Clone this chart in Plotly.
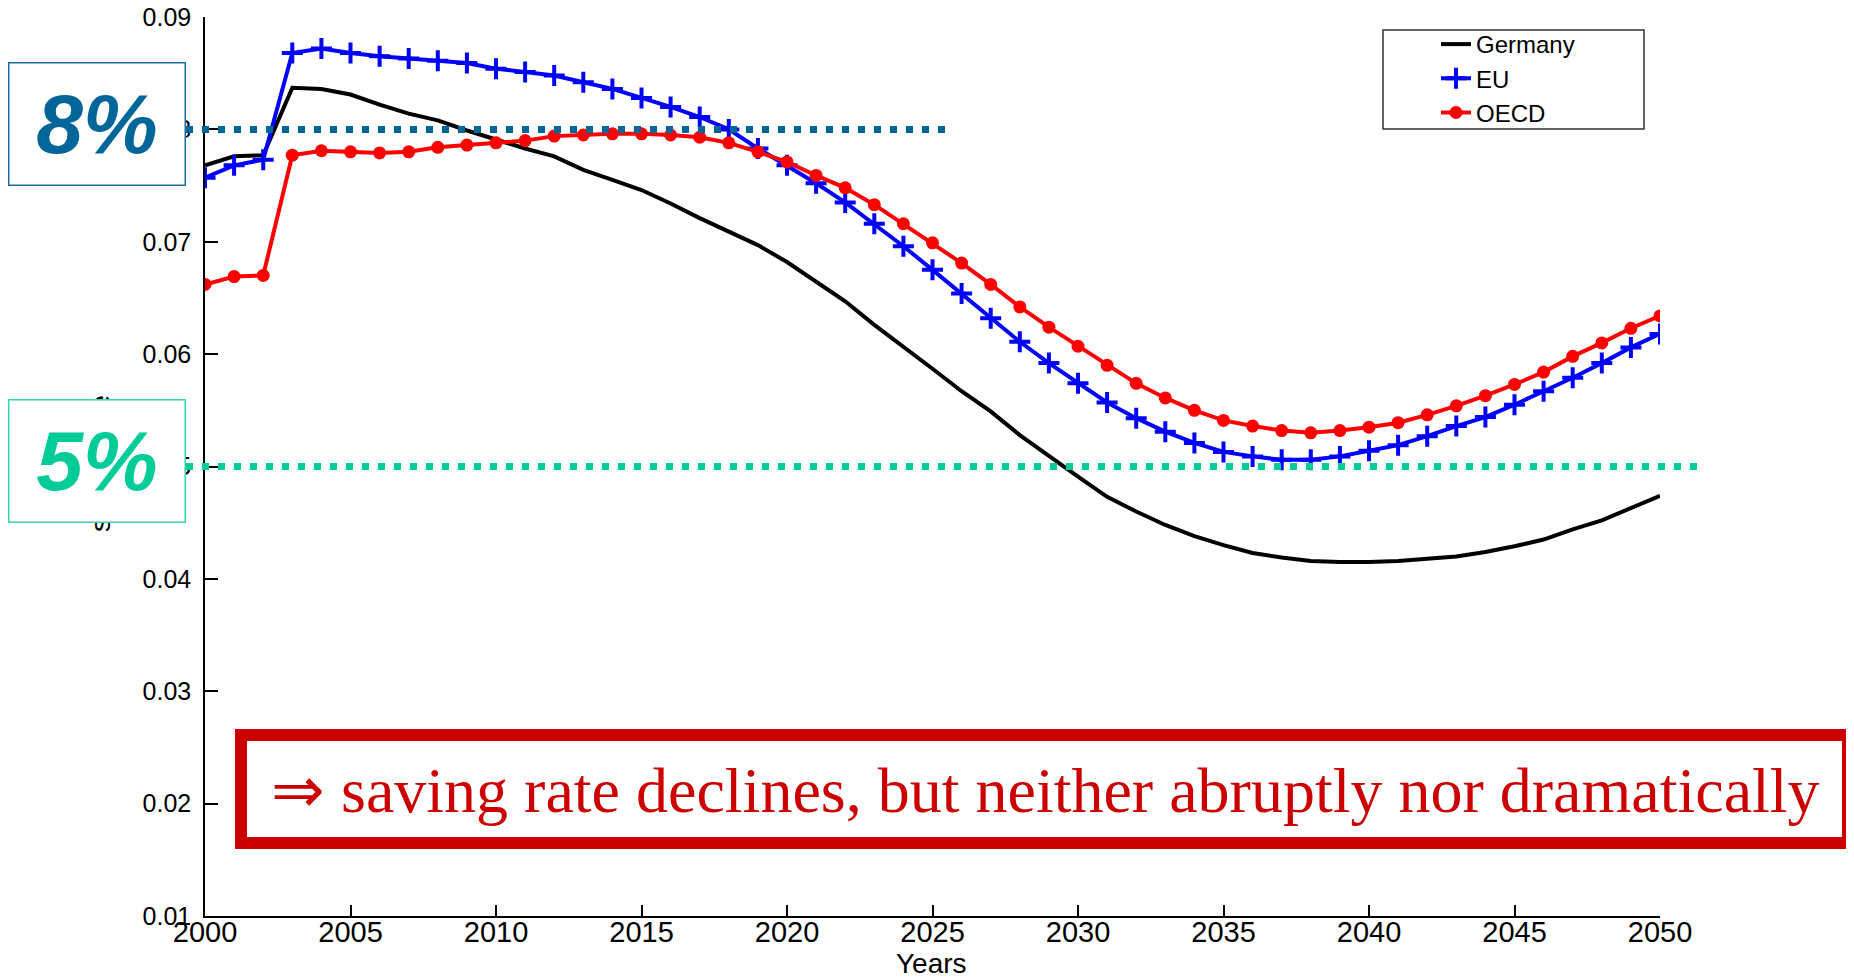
import plotly.graph_objects as go

years = list(range(2000, 2051))

germany = [0.0768, 0.0776, 0.0777, 0.0837, 0.0836, 0.0831, 0.0822, 0.0814, 0.0808, 0.0799,
           0.0791, 0.0783, 0.0776, 0.0764, 0.0755, 0.0746, 0.0734, 0.0721, 0.0709, 0.0697,
           0.0682, 0.0664, 0.0647, 0.0626, 0.0607, 0.0587, 0.0567, 0.0549, 0.0528, 0.0509,
           0.0491, 0.0473, 0.0460, 0.0448, 0.0438, 0.0430, 0.0423, 0.0419, 0.0416, 0.0415,
           0.0415, 0.0416, 0.0418, 0.0420, 0.0424, 0.0429, 0.0435, 0.0444, 0.0452, 0.0463,
           0.0474]

eu = [0.0757, 0.0768, 0.0773, 0.0868, 0.0872, 0.0868, 0.0865, 0.0863, 0.0861, 0.0859,
      0.0854, 0.0851, 0.0848, 0.0842, 0.0836, 0.0828, 0.0820, 0.0811, 0.0800, 0.0783,
      0.0768, 0.0752, 0.0735, 0.0716, 0.0696, 0.0675, 0.0654, 0.0632, 0.0611, 0.0592,
      0.0574, 0.0557, 0.0543, 0.0531, 0.0521, 0.0513, 0.0509, 0.0506, 0.0506, 0.0509,
      0.0514, 0.0519, 0.0527, 0.0536, 0.0544, 0.0555, 0.0567, 0.0579, 0.0592, 0.0606,
      0.0618]

oecd = [0.0662, 0.0669, 0.0670, 0.0777, 0.0781, 0.0780, 0.0779, 0.0780, 0.0784, 0.0786,
        0.0788, 0.0790, 0.0794, 0.0795, 0.0796, 0.0796, 0.0795, 0.0793, 0.0788, 0.0780,
        0.0771, 0.0759, 0.0748, 0.0733, 0.0716, 0.0699, 0.0681, 0.0662, 0.0642, 0.0624,
        0.0607, 0.0590, 0.0574, 0.0561, 0.0550, 0.0541, 0.0536, 0.0532, 0.0530, 0.0532,
        0.0535, 0.0539, 0.0546, 0.0554, 0.0563, 0.0573, 0.0584, 0.0598, 0.0610, 0.0623,
        0.0634]

y_ticks = [0.01, 0.02, 0.03, 0.04, 0.05, 0.06, 0.07, 0.08, 0.09]
x_ticks = list(range(2000, 2051, 5))
y_range = [0.01, 0.09]
x_range = [2000, 2050]

ref_levels = [0.08, 0.05]
ref_labels = ["8%", "5%"]
note_text = "⇒ saving rate declines, but neither abruptly nor dramatically"

# page body has an 8px margin; the figure is sized to fill the rest of the window
OFF = 8
W, H = 1846, 970
ML, MT = 205 - OFF, 17 - OFF
MR = W - (1660 - OFF)
MB = H - (916 - OFF)
PW = W - ML - MR
PH = H - MT - MB


def px_x(px):
    return (px - OFF - ML) / PW


def px_y(py):
    return (H - MB - (py - OFF)) / PH


def val_y(v):
    return (v - y_range[0]) / (y_range[1] - y_range[0])


fig = go.Figure()
fig.add_trace(go.Scatter(x=years, y=germany, name="Germany", mode="lines",
                         line=dict(color="black", width=4)))
fig.add_trace(go.Scatter(x=years, y=eu, name="EU", mode="lines+markers",
                         line=dict(color="#0000ff", width=4),
                         marker=dict(symbol="cross-thin", size=15,
                                     line=dict(color="#0000ff", width=4))))
fig.add_trace(go.Scatter(x=years, y=oecd, name="OECD", mode="lines+markers",
                         line=dict(color="#ff0000", width=4),
                         marker=dict(symbol="circle", size=13, color="#ff0000")))

font_family = "Arial, Liberation Sans, sans-serif"

fig.update_layout(
    width=W, height=H, autosize=False,
    margin=dict(l=ML, r=MR, t=MT, b=MB, autoexpand=False),
    paper_bgcolor="white", plot_bgcolor="white",
    font=dict(family=font_family, color="black"),
    showlegend=True,
    legend=dict(x=px_x(1436), y=px_y(22), xanchor="left", yanchor="top",
                bgcolor="rgba(0,0,0,0)", borderwidth=0,
                font=dict(size=24, family=font_family, color="black"),
                tracegroupgap=0),
    xaxis=dict(range=x_range, tickvals=x_ticks, ticks="inside", ticklen=11,
               tickwidth=1.5, tickcolor="black", showline=True, linecolor="black",
               linewidth=1.5, showgrid=False, zeroline=False,
               tickfont=dict(size=29, family=font_family), ticklabelstandoff=-11,
               ticklabeloverflow="allow"),
    yaxis=dict(range=y_range, tickvals=y_ticks, tickformat=".2f", ticks="inside",
               ticklen=13, tickwidth=1.5, tickcolor="black", showline=True,
               linecolor="black", linewidth=1.5, showgrid=False, zeroline=False,
               tickfont=dict(size=25, family=font_family), ticklabelstandoff=7,
               ticklabeloverflow="allow"),
)

shapes = []
# legend frame
shapes.append(dict(type="rect", xref="paper", yref="paper",
                   x0=px_x(1383), x1=px_x(1644), y0=px_y(129), y1=px_y(30),
                   line=dict(color="#333333", width=1.5), fillcolor="rgba(0,0,0,0)",
                   layer="above"))
# reference dotted lines
shapes.append(dict(type="line", xref="paper", yref="paper",
                   x0=px_x(170), x1=px_x(946), y0=val_y(ref_levels[0]), y1=val_y(ref_levels[0]),
                   line=dict(color="#006699", width=7, dash="7px,9px"), layer="above"))
shapes.append(dict(type="line", xref="paper", yref="paper",
                   x0=px_x(170), x1=px_x(1699), y0=val_y(ref_levels[1]), y1=val_y(ref_levels[1]),
                   line=dict(color="#00cc99", width=7, dash="7px,9px"), layer="above"))
# red note frame
shapes.append(dict(type="rect", xref="paper", yref="paper",
                   x0=px_x(241), x1=px_x(1848), y0=px_y(843), y1=px_y(735),
                   line=dict(color="#cc0000", width=12), fillcolor="white",
                   layer="above"))
fig.update_layout(shapes=shapes)

annotations = []
# y-axis title (mostly hidden behind the boxes)
annotations.append(dict(text="saving rate", xref="paper", yref="paper",
                        x=px_x(100), y=px_y(464), textangle=-90, showarrow=False,
                        font=dict(size=28, family=font_family, color="black"),
                        xanchor="center", yanchor="middle"))
# x-axis title
annotations.append(dict(text="Years", xref="paper", yref="paper",
                        x=px_x(931), y=px_y(963), showarrow=False,
                        font=dict(size=28, family=font_family, color="black"),
                        xanchor="center", yanchor="middle"))
annotations.append(dict(text="<b><i>%s</i></b>" % ref_labels[0], xref="paper", yref="paper",
                        x=px_x(97), y=px_y(124.5), showarrow=False,
                        width=175, height=121, bgcolor="white", bordercolor="#1a6fa0",
                        borderwidth=1.5, borderpad=0, align="center", valign="middle",
                        font=dict(size=84, family=font_family, color="#006699"),
                        xanchor="center", yanchor="middle"))
annotations.append(dict(text="<b><i>%s</i></b>" % ref_labels[1], xref="paper", yref="paper",
                        x=px_x(97), y=px_y(461), showarrow=False,
                        width=175, height=121, bgcolor="white", bordercolor="#33d6ad",
                        borderwidth=1.5, borderpad=0, align="center", valign="middle",
                        font=dict(size=84, family=font_family, color="#00cc99"),
                        xanchor="center", yanchor="middle"))
annotations.append(dict(text=note_text, xref="paper", yref="paper",
                        x=px_x(1045), y=px_y(790), showarrow=False,
                        font=dict(size=64, family="Liberation Serif, Times New Roman, serif",
                                  color="#cc0000"),
                        xanchor="center", yanchor="middle"))
fig.update_layout(annotations=annotations)

fig.write_html("out.html")
